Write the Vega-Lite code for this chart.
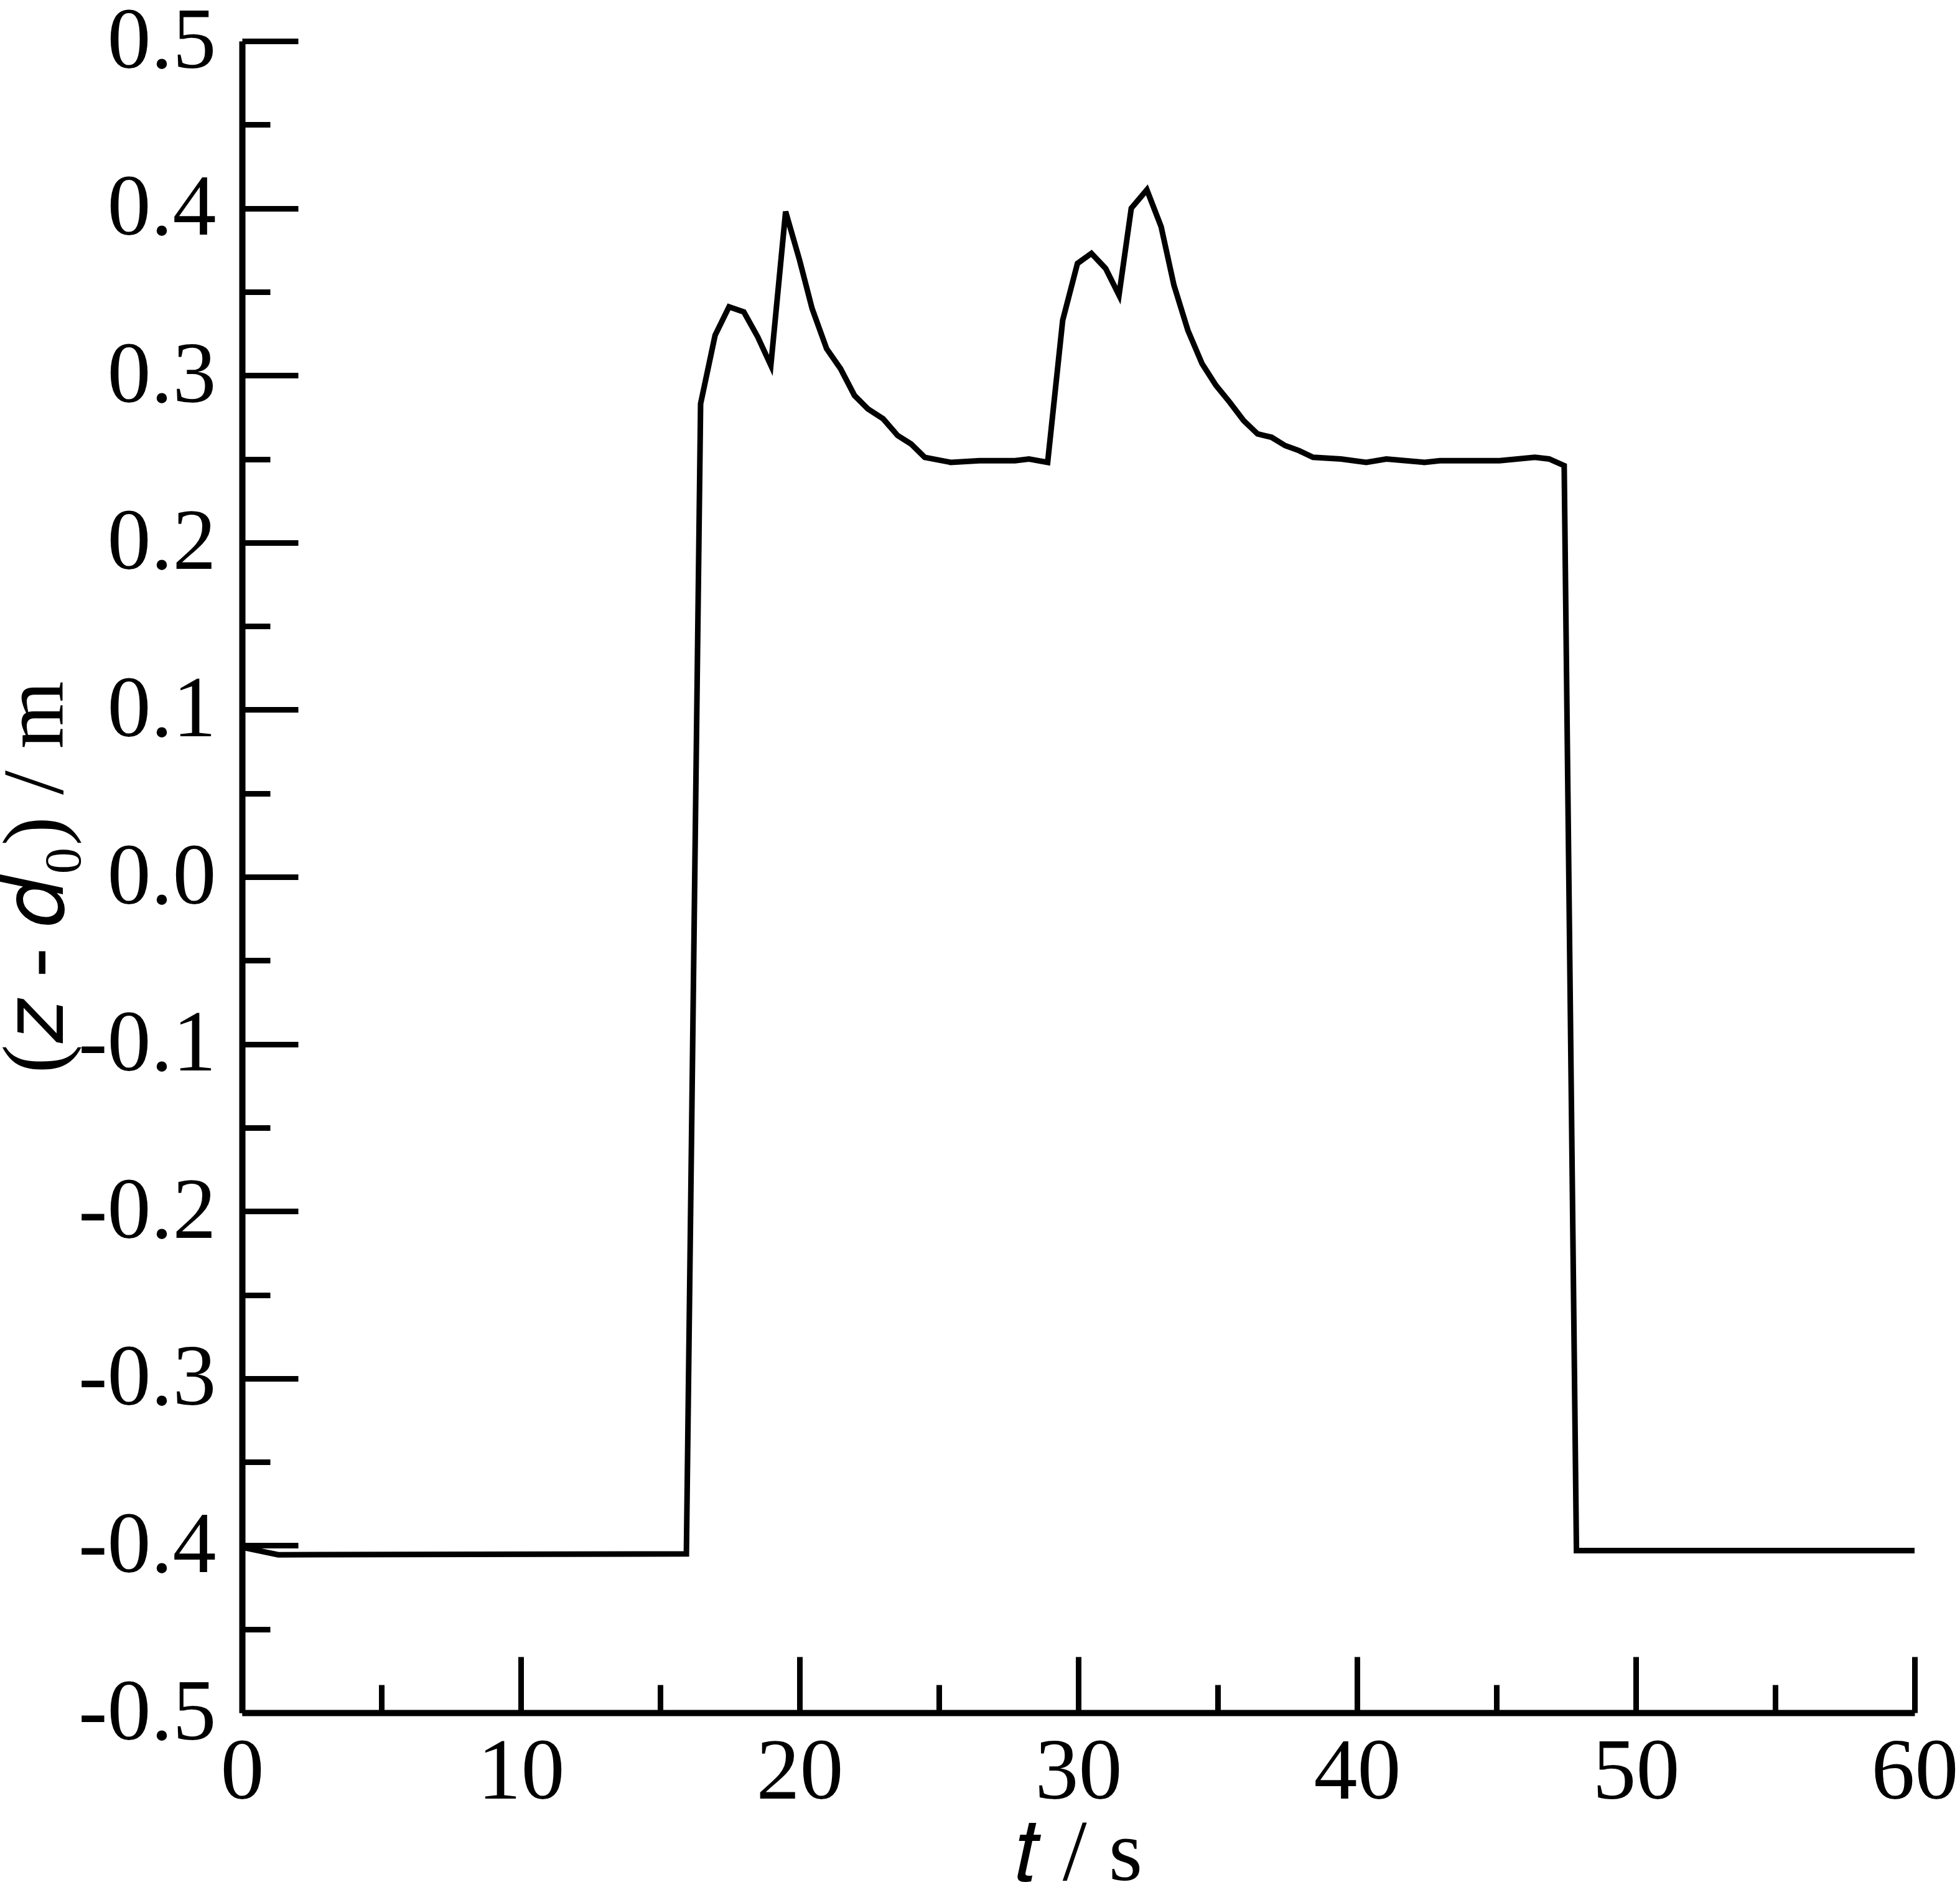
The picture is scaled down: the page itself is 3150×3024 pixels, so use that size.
{
  "$schema": "https://vega.github.io/schema/vega-lite/v6.json",
  "autosize": {"type": "none"},
  "padding": {"left": 389, "top": 66, "right": 73, "bottom": 272},
  "width": 2688,
  "height": 2686,
  "background": "white",
  "config": {
    "view": {"stroke": null},
    "axis": {
      "labelFont": "Liberation Serif",
      "titleFont": "Liberation Serif",
      "labelFontSize": 140,
      "titleFontSize": 140,
      "labelColor": "black",
      "titleColor": "black",
      "titleFontWeight": "normal",
      "domainColor": "black",
      "tickColor": "black",
      "grid": false,
      "labelOverlap": false,
      "labelFlush": false,
      "labelLimit": 0
    }
  },
  "data": {
    "values": [
      {"t": 0, "v": -0.401},
      {"t": 1.3, "v": -0.4055},
      {"t": 15.94, "v": -0.405},
      {"t": 16.45, "v": 0.283},
      {"t": 16.97, "v": 0.324},
      {"t": 17.47, "v": 0.341},
      {"t": 18.0, "v": 0.338},
      {"t": 18.5, "v": 0.323},
      {"t": 18.97, "v": 0.306},
      {"t": 19.5, "v": 0.398},
      {"t": 20.0, "v": 0.369},
      {"t": 20.45, "v": 0.34},
      {"t": 20.97, "v": 0.316},
      {"t": 21.47, "v": 0.304},
      {"t": 21.97, "v": 0.288},
      {"t": 22.45, "v": 0.28},
      {"t": 23.0, "v": 0.274},
      {"t": 23.52, "v": 0.264},
      {"t": 24.0, "v": 0.259},
      {"t": 24.49, "v": 0.251},
      {"t": 25.42, "v": 0.248},
      {"t": 26.45, "v": 0.249},
      {"t": 27.73, "v": 0.249},
      {"t": 28.23, "v": 0.25},
      {"t": 28.9, "v": 0.248},
      {"t": 29.44, "v": 0.333},
      {"t": 29.97, "v": 0.367},
      {"t": 30.47, "v": 0.373},
      {"t": 30.98, "v": 0.364},
      {"t": 31.46, "v": 0.348},
      {"t": 31.9, "v": 0.4},
      {"t": 32.46, "v": 0.411},
      {"t": 32.97, "v": 0.389},
      {"t": 33.43, "v": 0.354},
      {"t": 33.93, "v": 0.327},
      {"t": 34.44, "v": 0.307},
      {"t": 34.94, "v": 0.294},
      {"t": 35.43, "v": 0.284},
      {"t": 35.93, "v": 0.273},
      {"t": 36.43, "v": 0.265},
      {"t": 36.93, "v": 0.263},
      {"t": 37.42, "v": 0.258},
      {"t": 37.92, "v": 0.255},
      {"t": 38.42, "v": 0.251},
      {"t": 39.42, "v": 0.25},
      {"t": 40.33, "v": 0.248},
      {"t": 41.05, "v": 0.25},
      {"t": 42.41, "v": 0.248},
      {"t": 42.97, "v": 0.249},
      {"t": 45.11, "v": 0.249},
      {"t": 46.38, "v": 0.251},
      {"t": 46.89, "v": 0.25},
      {"t": 47.43, "v": 0.246},
      {"t": 47.87, "v": -0.403},
      {"t": 60, "v": -0.403}
    ]
  },
  "layer": [
    {
      "mark": {"type": "line", "color": "black", "strokeWidth": 9, "strokeJoin": "miter"},
      "encoding": {
        "x": {
          "field": "t", "type": "quantitative",
          "scale": {"domain": [0, 60], "nice": false, "zero": false},
          "axis": {
            "orient": "bottom",
            "values": [0, 10, 20, 30, 40, 50, 60],
            "format": "d",
            "tickSize": -90, "tickWidth": 9, "domainWidth": 10,
            "labelPadding": 116,
            "title": "𝑡 / s",
            "titlePadding": -8
          }
        },
        "y": {
          "field": "v", "type": "quantitative",
          "scale": {"domain": [-0.5, 0.5], "nice": false, "zero": false},
          "axis": {
            "orient": "left",
            "values": [-0.5, -0.4, -0.3, -0.2, -0.1, 0, 0.1, 0.2, 0.3, 0.4, 0.5],
            "labelExpr": "(datum.value < -0.001 ? '-' : '') + format(abs(datum.value), '.1f')",
            "tickSize": -90, "tickWidth": 9, "domainWidth": 10,
            "labelPadding": 132,
            "title": "(𝑧 - 𝑑₀) / m",
            "titlePadding": 60
          }
        }
      }
    },
    {
      "mark": {"type": "line", "strokeOpacity": 0},
      "encoding": {
        "x": {
          "field": "t", "type": "quantitative",
          "scale": {"domain": [0, 60], "nice": false, "zero": false},
          "axis": {
            "orient": "bottom",
            "values": [5, 15, 25, 35, 45, 55],
            "tickSize": -45, "tickWidth": 9,
            "domain": false, "labels": false, "title": null
          }
        },
        "y": {
          "field": "v", "type": "quantitative",
          "scale": {"domain": [-0.5, 0.5], "nice": false, "zero": false},
          "axis": {
            "orient": "left",
            "values": [-0.45, -0.35, -0.25, -0.15, -0.05, 0.05, 0.15, 0.25, 0.35, 0.45],
            "tickSize": -45, "tickWidth": 9,
            "domain": false, "labels": false, "title": null
          }
        }
      }
    }
  ],
  "resolve": {"axis": {"x": "independent", "y": "independent"}}
}
